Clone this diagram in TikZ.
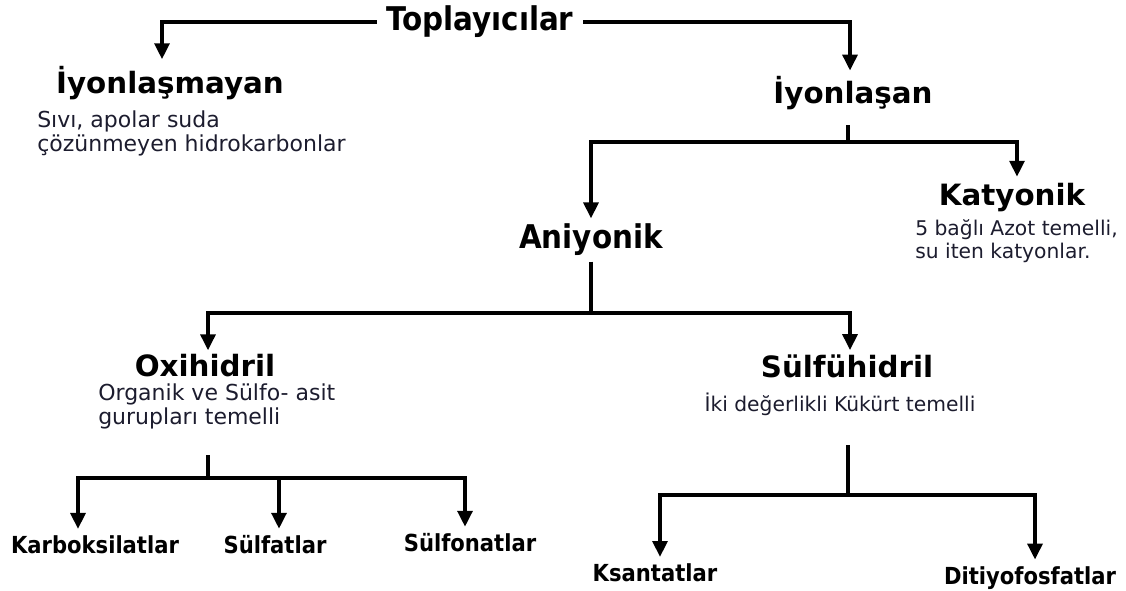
\documentclass[tikz,border=0pt]{standalone}
\usepackage{fontspec}
\setmainfont{DejaVu Sans}
\newfontfamily\condfont{DejaVu Sans Condensed}
\usetikzlibrary{arrows.meta}
\definecolor{subtxt}{HTML}{1C1C2E}
\tikzset{
  head/.style={font=\bfseries\fontsize{22}{24}\selectfont, inner sep=1pt},
  chead/.style={font=\condfont\bfseries\fontsize{24.5}{26}\selectfont, inner sep=2pt},
  leaf/.style={font=\condfont\bfseries\fontsize{17.6}{19}\selectfont, inner sep=1pt},
  sub/.style={font=\fontsize{16.5}{17.5}\selectfont, text=subtxt, align=left, inner sep=0pt},
  smallsub/.style={sub, font=\fontsize{15.2}{17.5}\selectfont},
  link/.style={line width=3pt},
  arr/.style={line width=3pt, -{Triangle[length=12pt,width=11pt]}},
}
\begin{document}
\begin{tikzpicture}[x=0.75pt,y=-0.75pt]
\useasboundingbox (0,0) rectangle (1126,590);
% nodes
\node[chead, inner xsep=7pt] (top) at (480,22) {Toplayıcılar};
\node[head] (ion0) at (170,83) {İyonlaşmayan};
\node[sub, anchor=north west] (ion0s) at (37,111) {Sıvı, apolar suda\\çözünmeyen hidrokarbonlar};
\node[head] (ion1) at (853,93) {İyonlaşan};
\node[head] (kat) at (1012,198) {Katyonik};
\node[smallsub, anchor=north west] (kats) at (915,219) {5 bağlı Azot temelli,\\su iten katyonlar.};
\node[chead] (ani) at (591,240) {Aniyonik};
\node[head] (oxi) at (205,366) {Oxihidril};
\node[sub, anchor=north west] (oxis) at (98,384) {Organik ve Sülfo- asit\\gurupları temelli};
\node[head] (sul) at (847,366) {Sülfühidril};
\node[smallsub] (suls) at (840,404) {İki değerlikli Kükürt temelli};
\node[leaf] (karb) at (95,545) {Karboksilatlar};
\node[leaf] (sulfat) at (275,545) {Sülfatlar};
\node[leaf] (sulfon) at (470,543) {Sülfonatlar};
\node[leaf] (ksan) at (655,573) {Ksantatlar};
\node[leaf] (diti) at (1030,578) {Ditiyofosfatlar};
% junction coordinates
\coordinate (j1) at (848,142);
\coordinate (j2) at (591,313);
\coordinate (j3) at (208,478);
\coordinate (j4) at (848,495);
% connectors
\draw[arr] (top.west) -| ([yshift=4pt]162,0 |- ion0.north);
\draw[arr] (top.east) -| ([yshift=3pt]850,0 |- ion1.north);
\draw[link] (848,125) -- (j1);
\draw[arr] (j1) -| ([yshift=4pt]kat.north -| 1017,0);
\draw[arr] (j1) -| ([yshift=2pt]ani.north);
\draw[link] ([yshift=-2pt]ani.south) -- (j2);
\draw[arr] (j2) -| ([yshift=2pt]oxi.north -| 208,0);
\draw[arr] (j2) -| ([yshift=2pt]sul.north -| 850,0);
\draw[link] (208,455) -- (j3);
\draw[arr] (j3) -| ([yshift=4pt]karb.north -| 78,0);
\draw[arr] (j3) -| ([yshift=4pt]sulfat.north -| 279,0);
\draw[arr] (j3) -| ([yshift=4pt]sulfon.north -| 465,0);
\draw[link] (848,445) -- (j4);
\draw[arr] (j4) -| ([yshift=4pt]ksan.north -| 660,0);
\draw[arr] (j4) -| ([yshift=4pt]diti.north -| 1035,0);
\end{tikzpicture}
\end{document}
